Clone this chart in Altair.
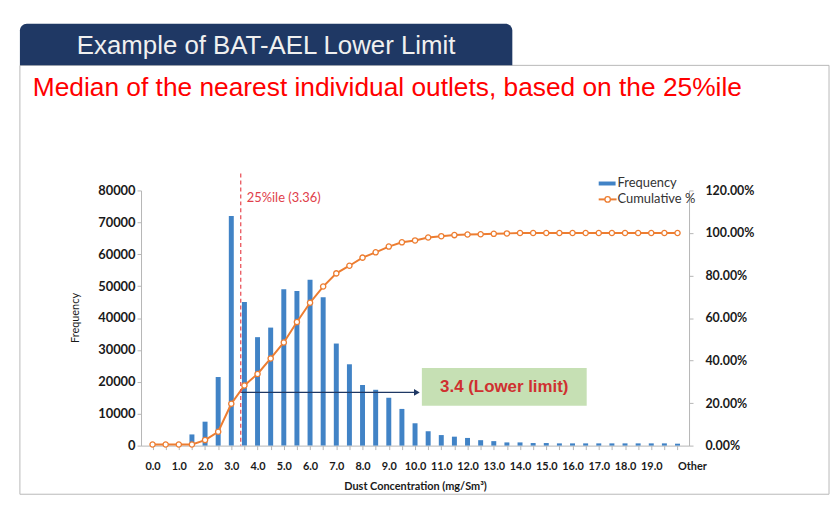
import altair as alt
import pandas as pd

# ---------------- data ----------------
categories = ["0.0", "0.5", "1.0", "1.5", "2.0", "2.5", "3.0", "3.5", "4.0", "4.5",
              "5.0", "5.5", "6.0", "6.5", "7.0", "7.5", "8.0", "8.5", "9.0", "9.5",
              "10.0", "10.5", "11.0", "11.5", "12.0", "12.5", "13.0", "13.5", "14.0", "14.5",
              "15.0", "15.5", "16.0", "16.5", "17.0", "17.5", "18.0", "18.5", "19.0", "19.5",
              "Other"]
frequency = [0, 0, 0, 3500, 7500, 21500, 72000, 45000, 34000, 37000,
             49000, 48500, 52000, 46500, 32000, 25500, 19000, 17500, 15000, 11500,
             7000, 4500, 3300, 2800, 2400, 1700, 1400, 1000, 1000, 800,
             800, 700, 700, 700, 700, 700, 700, 700, 700, 700,
             600]
cumulative_pct = [0.5, 0.5, 0.5, 0.5, 2.6, 6.5, 19.7, 28.3, 33.7, 41.0,
                  48.5, 58.1, 67.2, 74.8, 81.0, 84.6, 88.4, 90.9, 93.6, 95.6,
                  96.5, 97.9, 98.5, 99.0, 99.3, 99.4, 99.6, 99.8, 100, 100,
                  100, 100, 100, 100, 100, 100, 100, 100, 100, 100,
                  100]
left_ticks = [0, 10000, 20000, 30000, 40000, 50000, 60000, 70000, 80000]
right_ticks = [0, 0.2, 0.4, 0.6, 0.8, 1.0, 1.2]

percentile_25 = 3.36
percentile_label = "25%ile (3.36)"
arrow_level = 0.25
arrow_end = 10.0
arrow_head = 10.07
box_x = [10.26, 16.54]
box_y = [0.188, 0.365]
box_label = "3.4 (Lower limit)"

title_text = "Example of BAT-AEL Lower Limit"
subtitle_text = "Median of the nearest individual outlets, based on the 25%ile"

# ---------------- tables ----------------
positions = [i * 0.5 for i in range(len(categories))]
df = pd.DataFrame({
    "pos": positions,
    "label": categories,
    "freq": frequency,
    "cum": [c / 100 for c in cumulative_pct],
})
df_pct = pd.DataFrame({"pos": [percentile_25]})
df_arrow = pd.DataFrame({"pos": [percentile_25], "pos2": [arrow_end], "cum": [arrow_level]})
df_head = pd.DataFrame({"pos": [arrow_head], "cum": [arrow_level]})
df_box = pd.DataFrame({"pos": [box_x[0]], "pos2": [box_x[1]], "cum": [box_y[0]], "cum2": [box_y[1]],
                       "mid": [(box_x[0] + box_x[1]) / 2], "cmid": [(box_y[0] + box_y[1]) / 2]})
one = pd.DataFrame({"d": [0]})

BLUE = "#4183c6"
ORANGE = "#ed7d31"
NAVY = "#1f3864"
AXC = "#b5b5b5"
LBL = "#1a1a1a"

x_scale = alt.Scale(domain=[-0.25, 20.25], nice=False, zero=False)
x_axis = alt.Axis(
    values=positions,
    labelExpr="datum.value == 20 ? 'Other' : (datum.value % 1 == 0 ? format(datum.value, '.1f') : '')",
    labelAlign=alt.condition("datum.value == 20", alt.value("left"), alt.value("center")),
    title="Dust Concentration (mg/Sm³)",
    labelFont="Lato", labelFontWeight="bold", labelFontSize=11, labelColor=LBL,
    labelPadding=11, labelOverlap=False, labelFlush=False, labelBound=False,
    tickSize=4, tickColor=AXC, domainColor=AXC,
    titleFont="Lato", titleFontWeight="bold", titleFontSize=11, titleColor=LBL, titlePadding=9,
    grid=False,
)
X = alt.X("pos:Q", scale=x_scale, axis=x_axis)

y_left = alt.Y("freq:Q", scale=alt.Scale(domain=[0, 80000], nice=False),
               axis=alt.Axis(orient="left", values=left_ticks, format="d", title="Frequency",
                             titleFont="Lato", titleFontWeight="normal", titleFontSize=11, titleColor=LBL,
                             titleX=-66, titleY=128, titleAlign="center", titleBaseline="middle",
                             labelFont="Lato", labelFontWeight="bold", labelFontSize=13, labelColor=LBL,
                             labelPadding=2, tickSize=4, tickColor=AXC, domainColor=AXC, grid=False))
y_right_axis = alt.Axis(orient="right", values=right_ticks, format=".2%", title=None,
                        labelFont="Lato", labelFontWeight="bold", labelFontSize=12.5, labelColor=LBL,
                        labelPadding=12, tickSize=4, tickColor=AXC, domainColor=AXC, grid=False)
y_scale_r = alt.Scale(domain=[0, 1.2], nice=False)
Y_R = alt.Y("cum:Q", scale=y_scale_r, axis=y_right_axis)

# ---------------- decorations (slide frame, titles, legend) ----------------
base = alt.Chart(one)
frame = base.mark_rect(fill=None, stroke="#b8b8b8", strokeWidth=1).encode(
    x=alt.value(-122), x2=alt.value(693), y=alt.value(-126), y2=alt.value(306))
tab = base.mark_rect(color=NAVY, cornerRadiusTopLeft=7, cornerRadiusTopRight=7).encode(
    x=alt.value(-122), x2=alt.value(374), y=alt.value(-168), y2=alt.value(-126))
title = base.mark_text(text=title_text, font="Liberation Sans", fontSize=26, color="#f0f0f0",
                       align="center", baseline="alphabetic").encode(x=alt.value(126), y=alt.value(-137))
subtitle = base.mark_text(text=subtitle_text, font="Liberation Sans", fontSize=26.5, color="#ff0000",
                          align="left", baseline="alphabetic").encode(x=alt.value(-109), y=alt.value(-95))
leg1 = base.mark_rule(color=BLUE, strokeWidth=4).encode(x=alt.value(461), x2=alt.value(478), y=alt.value(-7))
leg1t = base.mark_text(text="Frequency", font="Lato", fontSize=13, color="#333",
                       align="left", baseline="middle").encode(x=alt.value(480), y=alt.value(-7))
leg2 = base.mark_rule(color=ORANGE, strokeWidth=2).encode(x=alt.value(461), x2=alt.value(479), y=alt.value(9))
leg2p = base.mark_point(shape="circle", filled=True, fill="white", stroke=ORANGE, strokeWidth=1.3,
                        size=30, opacity=1).encode(x=alt.value(470), y=alt.value(9))
leg2t = base.mark_text(text="Cumulative %", font="Lato", fontSize=13, color="#333",
                       align="left", baseline="middle").encode(x=alt.value(480), y=alt.value(9))
deco = alt.layer(frame, tab, title, subtitle, leg1, leg1t, leg2, leg2p, leg2t)

# ---------------- data layers ----------------
bars = alt.Chart(df).mark_bar(size=5, color=BLUE).encode(x=X, y=y_left)

cum_line = alt.Chart(df).mark_line(color=ORANGE, strokeWidth=2).encode(x=X, y=Y_R)
cum_pts = alt.Chart(df).mark_point(shape="circle", filled=True, fill="white", stroke=ORANGE,
                                   strokeWidth=1.3, size=28, opacity=1).encode(x=X, y=Y_R)
pct_rule = alt.Chart(df_pct).mark_rule(color="#e8474f", strokeDash=[4, 3], strokeWidth=1.2).encode(
    x=X, y=alt.value(-17), y2=alt.value(257))
pct_text = alt.Chart(df_pct).mark_text(text=percentile_label, font="Lato", fontSize=13, color="#e0404a",
                                       align="left", baseline="middle", dx=6).encode(x=X, y=alt.value(8))
arrow = alt.Chart(df_arrow).mark_rule(color=NAVY, strokeWidth=1.2).encode(x=X, x2="pos2:Q", y=Y_R)
head = alt.Chart(df_head).mark_point(shape="triangle-right", filled=True, color=NAVY, size=45,
                                     opacity=1).encode(x=X, y=Y_R)
box = alt.Chart(df_box).mark_rect(color="#c6e0b4").encode(x=X, x2="pos2:Q", y=Y_R, y2="cum2:Q")
box_t = alt.Chart(df_box).mark_text(text=box_label, font="Liberation Sans", fontWeight="bold",
                                    fontSize=17, color="#cf3030", align="center",
                                    baseline="middle").encode(
    x=alt.X("mid:Q", scale=x_scale, axis=x_axis), y=alt.Y("cmid:Q", scale=y_scale_r, axis=y_right_axis))

right_layer = alt.layer(cum_line, arrow, head, box, box_t, pct_rule, pct_text, cum_pts)

chart = alt.layer(deco, bars, right_layer).resolve_scale(y="independent").properties(
    width=552, height=257,
    autosize=alt.AutoSizeParams(type="none"),
    padding={"left": 134, "top": 182, "right": 144, "bottom": 51},
    background="white",
).configure_view(stroke=None)

chart.save("out.html", embed_options={"renderer": "svg", "actions": False})
